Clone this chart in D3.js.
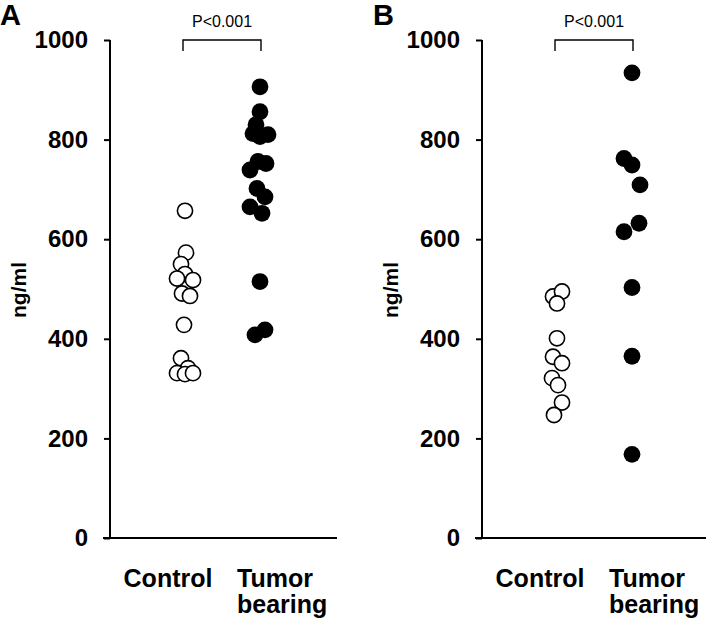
<!DOCTYPE html>
<html><head><meta charset="utf-8">
<script src="https://cdn.jsdelivr.net/npm/d3@7"></script>
<style>body{margin:0;background:#fff}svg{display:block}text{font-family:"Liberation Sans",Arial,Helvetica,sans-serif}</style>
</head><body>
<svg id="c" width="709" height="622"></svg>
<script>
// ---- data ----
const categories = ["Control", "Tumor bearing"];
const yTicks = [0, 200, 400, 600, 800, 1000];
const pLabel = "P<0.001";
const panelLabels = ["A", "B"];
const yTitle = "ng/ml";
const controlA = [657, 573, 550, 530, 521, 518, 491, 486, 428, 361, 341, 331, 329, 331];
const tumorA = [906, 856, 830, 812, 810, 806, 756, 752, 739, 702, 685, 665, 652, 515, 418, 408];
const controlB = [485, 495, 471, 401, 364, 351, 321, 307, 272, 247];
const tumorB = [934, 762, 749, 709, 632, 615, 503, 365, 168];

// ---- layout (jitter offsets in px, used only to separate overlapping dots) ----
const jitterControlA = [0, 1, -4, 0, -8, 8, -3, 5, -1, -4, 3, -8, 0, 8];
const jitterTumorA = [0, 0, -4, -7, 8, 0, -2, 6, -10, -3, 5, -10, 2, 0, 5, -5];
const jitterControlB = [-4, 5, 0, 0, -4, 5, -5, 1, 5, -3];
const jitterTumorB = [0, -8, 0, 8, 7, -8, 0, 0, 0];

const svg = d3.select("#c");
const y = d3.scaleLinear().domain([0, 1000]).range([538, 40]);

function panel(o) {
  const g = svg.append("g");
  const x = d3.scalePoint().domain(categories).range([o.ax, o.ax + 225]).padding(1);
  // y axis
  const ya = g.append("g").attr("transform", `translate(${o.ax},0)`)
    .call(d3.axisLeft(y).tickValues(yTicks).tickFormat(d3.format("d"))
      .tickSize(6).tickPadding(16).tickSizeOuter(0));
  ya.select(".domain").attr("stroke", "#000").attr("stroke-width", 2)
    .attr("d", `M0,${y(1000)}V${y(0)}`);
  ya.selectAll(".tick line").attr("stroke", "#000").attr("stroke-width", 2);
  ya.selectAll(".tick text").attr("font-size", 24).attr("font-weight", "bold")
    .attr("fill", "#000").attr("font-family", "Liberation Sans, Arial, sans-serif");
  // x axis line
  g.append("line").attr("x1", o.ax - 7).attr("x2", o.xEnd).attr("y1", y(0)).attr("y2", y(0))
    .attr("stroke", "#000").attr("stroke-width", 2);
  // category labels
  g.append("text").attr("x", x(categories[0]) - 17).attr("y", 587).attr("text-anchor", "middle")
    .attr("font-size", 25).attr("font-weight", "bold").text(categories[0]);
  const words = categories[1].split(" ");
  words.forEach((w, i) => g.append("text").attr("x", x(categories[1]) - 23).attr("y", 587 + i * 26)
    .attr("font-size", 25).attr("font-weight", "bold").text(w));
  // y title
  g.append("text").attr("transform", `translate(${o.titleX},290) rotate(-90)`)
    .attr("text-anchor", "middle").attr("font-size", 21).attr("font-weight", "bold").text(yTitle);
  // panel label
  g.append("text").attr("x", o.letterX).attr("y", 25).attr("font-size", 29)
    .attr("font-weight", "bold").text(o.letter);
  // bracket
  const x1 = x(categories[0]) - 2, x2 = x(categories[1]) + 1;
  g.append("path").attr("d", `M${x1},51V40H${x2}V51`).attr("fill", "none")
    .attr("stroke", "#000").attr("stroke-width", 1.4);
  g.append("text").attr("x", (x1 + x2) / 2).attr("y", 27).attr("text-anchor", "middle")
    .attr("font-size", 16).text(pLabel);
  // points
  g.selectAll("circle.c").data(o.control).join("circle")
    .attr("cx", (d, i) => x(categories[0]) + o.jc[i]).attr("cy", d => y(d)).attr("r", 7.6)
    .attr("fill", "#fff").attr("stroke", "#000").attr("stroke-width", 1.6);
  g.selectAll("circle.t").data(o.tumor).join("circle")
    .attr("cx", (d, i) => x(categories[1]) + o.jt[i]).attr("cy", d => y(d)).attr("r", 8.4)
    .attr("fill", "#000");
}

panel({ax: 110, xEnd: 337, titleX: 26, letterX: 0, letter: panelLabels[0],
  control: controlA, tumor: tumorA, jc: jitterControlA, jt: jitterTumorA});
panel({ax: 482, xEnd: 706, titleX: 398, letterX: 373, letter: panelLabels[1],
  control: controlB, tumor: tumorB, jc: jitterControlB, jt: jitterTumorB});
</script>
</body></html>
